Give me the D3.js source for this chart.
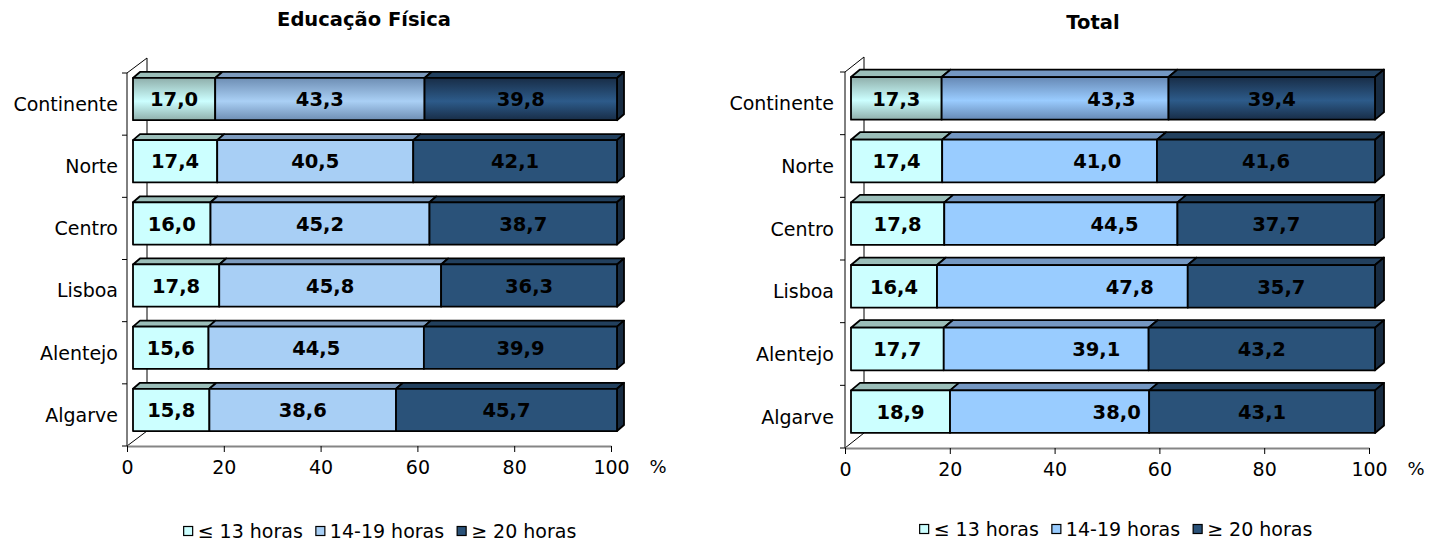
<!DOCTYPE html>
<html>
<head>
<meta charset="utf-8">
<script src="https://cdn.jsdelivr.net/npm/d3@7"></script>
<style>
  body { margin: 0; background: #fff; }
  text { font-family: "DejaVu Sans", Verdana, sans-serif; }
</style>
</head>
<body>
<svg id="chart" width="1439" height="542"></svg>
<script>
// data
const regioes = ["Continente", "Norte", "Centro", "Lisboa", "Alentejo", "Algarve"];
const escaloes = ["≤ 13 horas", "14-19 horas", "≥ 20 horas"];
const eduFisica13 = [17.0, 17.4, 16.0, 17.8, 15.6, 15.8];
const eduFisica1419 = [43.3, 40.5, 45.2, 45.8, 44.5, 38.6];
const eduFisica20 = [39.8, 42.1, 38.7, 36.3, 39.9, 45.7];
const total13 = [17.3, 17.4, 17.8, 16.4, 17.7, 18.9];
const total1419 = [43.3, 41.0, 44.5, 47.8, 39.1, 38.0];
const total20 = [39.4, 41.6, 37.7, 35.7, 43.2, 43.1];
const xTicks = [0, 20, 40, 60, 80, 100];
// where the Total panel puts its middle labels (value units)
const totalMeioLabel = [49.7, 47.0, 50.3, 53.2, 46.8, 50.7];

const svg = d3.select("#chart");
const defs = svg.append("defs");
const fmt = v => d3.format(".1f")(v).replace(".", ",");

function gradient(id, edge, mid){
  const g = defs.append("linearGradient").attr("id", id)
    .attr("x1", 0).attr("y1", 0).attr("x2", 0).attr("y2", 1);
  g.append("stop").attr("offset", "0%").attr("stop-color", edge);
  g.append("stop").attr("offset", "55%").attr("stop-color", mid);
  g.append("stop").attr("offset", "100%").attr("stop-color", edge);
  return `url(#${id})`;
}

function panel(cfg){
  const g = svg.append("g");
  const rows = regioes.map((r, i) => {
    const o = {regiao: r};
    escaloes.forEach((s, k) => o[s] = cfg.series[k][i]);
    return o;
  });
  const stacked = d3.stack().keys(escaloes).offset(d3.stackOffsetExpand)(rows);

  const x = d3.scaleLinear().domain([0, 100]).range([cfg.x0, cfg.x1]);
  const y = d3.scaleBand().domain(regioes).range([cfg.yTop, cfg.yBottom])
    .paddingInner(0.32).paddingOuter(0.16);
  const [wx, wy] = cfg.wall, [sx, sy] = cfg.shift, [dx, dy] = cfg.depth;

  // walls
  const wall = g.append("g").attr("fill", "none").attr("stroke", "#000").attr("stroke-width", 1);
  wall.append("line").attr("x1", cfg.x0 + wx).attr("x2", cfg.x0 + wx)
    .attr("y1", cfg.yTop + wy).attr("y2", cfg.yBottom + wy);
  wall.append("line").attr("x1", cfg.x0).attr("y1", cfg.yTop).attr("x2", cfg.x0 + wx).attr("y2", cfg.yTop + wy);
  wall.append("line").attr("x1", cfg.x0).attr("y1", cfg.yBottom).attr("x2", cfg.x0 + wx).attr("y2", cfg.yBottom + wy);
  wall.append("line").attr("x1", cfg.x0).attr("x2", cfg.x0).attr("y1", cfg.yTop).attr("y2", cfg.yBottom);
  wall.selectAll(".tk").data(d3.range(regioes.length + 1)).join("line")
    .attr("x1", cfg.x0 - 5).attr("x2", cfg.x0)
    .attr("y1", i => cfg.yTop + i * y.step()).attr("y2", i => cfg.yTop + i * y.step());

  // floor axis
  const ax = g.append("g").attr("transform", `translate(0,${cfg.yBottom})`)
    .call(d3.axisBottom(x).tickValues(xTicks).tickSize(6).tickSizeOuter(0).tickPadding(9));
  ax.select(".domain").attr("stroke", "#858585").attr("stroke-width", 2);
  ax.selectAll(".tick line").attr("stroke", "#000");
  ax.selectAll("text").attr("font-size", 19).attr("fill", "#000")
    .attr("font-family", "DejaVu Sans, sans-serif");
  g.append("text").attr("x", x(100) + 47).attr("y", cfg.yBottom + 27)
    .attr("font-size", 18).attr("text-anchor", "middle").text("%");

  // category labels
  g.append("g").selectAll("text").data(regioes).join("text")
    .attr("x", cfg.labelRight).attr("y", d => y(d) + y.bandwidth() / 2)
    .attr("dy", "0.36em").attr("text-anchor", "end").attr("font-size", 19).text(d => d);

  // bars
  const bars = g.append("g").attr("stroke", "#000").attr("stroke-width", 1.8).attr("stroke-linejoin", "round");
  stacked.forEach((layer, k) => {
    layer.forEach((seg, i) => {
      const x0 = x(seg[0] * 100) + sx, x1 = x(seg[1] * 100) + sx;
      const yT = y(regioes[i]) + sy, yB = yT + y.bandwidth();
      const front = i === 0 ? cfg.grad[k] : cfg.front[k];
      bars.append("path").attr("fill", cfg.top[k])
        .attr("d", `M${x0},${yT}L${x0 + dx},${yT + dy}L${x1 + dx},${yT + dy}L${x1},${yT}Z`);
      if (k === escaloes.length - 1) {
        bars.append("path").attr("fill", cfg.side)
          .attr("d", `M${x1},${yT}L${x1 + dx},${yT + dy}L${x1 + dx},${yB + dy}L${x1},${yB}Z`);
      }
      bars.append("rect").attr("x", x0).attr("y", yT).attr("width", x1 - x0).attr("height", yB - yT)
        .attr("fill", front);
      const v = cfg.series[k][i];
      const lx = (k === 1 && cfg.meioLabel) ? x(cfg.meioLabel[i]) + sx : (x0 + x1) / 2;
      g.append("text").attr("x", lx).attr("y", (yT + yB) / 2).attr("dy", "0.37em")
        .attr("text-anchor", "middle").attr("font-size", 19.5).attr("font-weight", "bold")
        .text(fmt(v));
    });
  });

  // title
  g.append("text").attr("x", cfg.titleX).attr("y", cfg.titleY).attr("dy", "0.36em")
    .attr("text-anchor", "middle").attr("font-size", 19.5).attr("font-weight", "bold").text(cfg.title);

  // legend
  const leg = g.append("g");
  let cx = 0;
  escaloes.forEach((s, k) => {
    const it = leg.append("g").attr("transform", `translate(${cx},0)`);
    it.append("rect").attr("x", 0).attr("y", -4.5).attr("width", 9).attr("height", 9)
      .attr("fill", cfg.front[k]).attr("stroke", "#000").attr("stroke-width", 1.2);
    const t = it.append("text").attr("x", 14).attr("y", 0).attr("dy", "0.36em")
      .attr("font-size", 19).text(s);
    cx += 14 + t.node().getComputedTextLength() + 13;
  });
  const w = cx - 13;
  leg.attr("transform", `translate(${cfg.legendCenter - w / 2},${cfg.legendY})`);
}

panel({
  title: "Educação Física", titleX: 364, titleY: 19,
  series: [eduFisica13, eduFisica1419, eduFisica20],
  x0: 127, x1: 611, yTop: 73, yBottom: 446,
  wall: [20, -15], shift: [6, -5], depth: [7, -6],
  labelRight: 118, legendCenter: 380, legendY: 531,
  front: ["#CCFFFF", "#A8CFF5", "#2A5279"],
  top: ["#9BBEB9", "#7D9BBE", "#22405E"],
  side: "#182C42",
  grad: [gradient("gA0", "#8FAFAB", "#CCFFFF"), gradient("gA1", "#6E8EB4", "#AAD0F5"), gradient("gA2", "#182D47", "#2D5B8A")]
});

panel({
  title: "Total", titleX: 1093, titleY: 22,
  series: [total13, total1419, total20],
  meioLabel: totalMeioLabel,
  x0: 845, x1: 1369, yTop: 72, yBottom: 448,
  wall: [19, -15], shift: [6, -5], depth: [9, -7.5],
  labelRight: 834, legendCenter: 1116, legendY: 529,
  front: ["#CCFFFF", "#99CCFF", "#2A5279"],
  top: ["#9BBEB9", "#7497C2", "#22405E"],
  side: "#182C42",
  grad: [gradient("gB0", "#8FAFAB", "#CCFFFF"), gradient("gB1", "#6688B4", "#9ACCFF"), gradient("gB2", "#182D47", "#2D5B8A")]
});
</script>
</body>
</html>
